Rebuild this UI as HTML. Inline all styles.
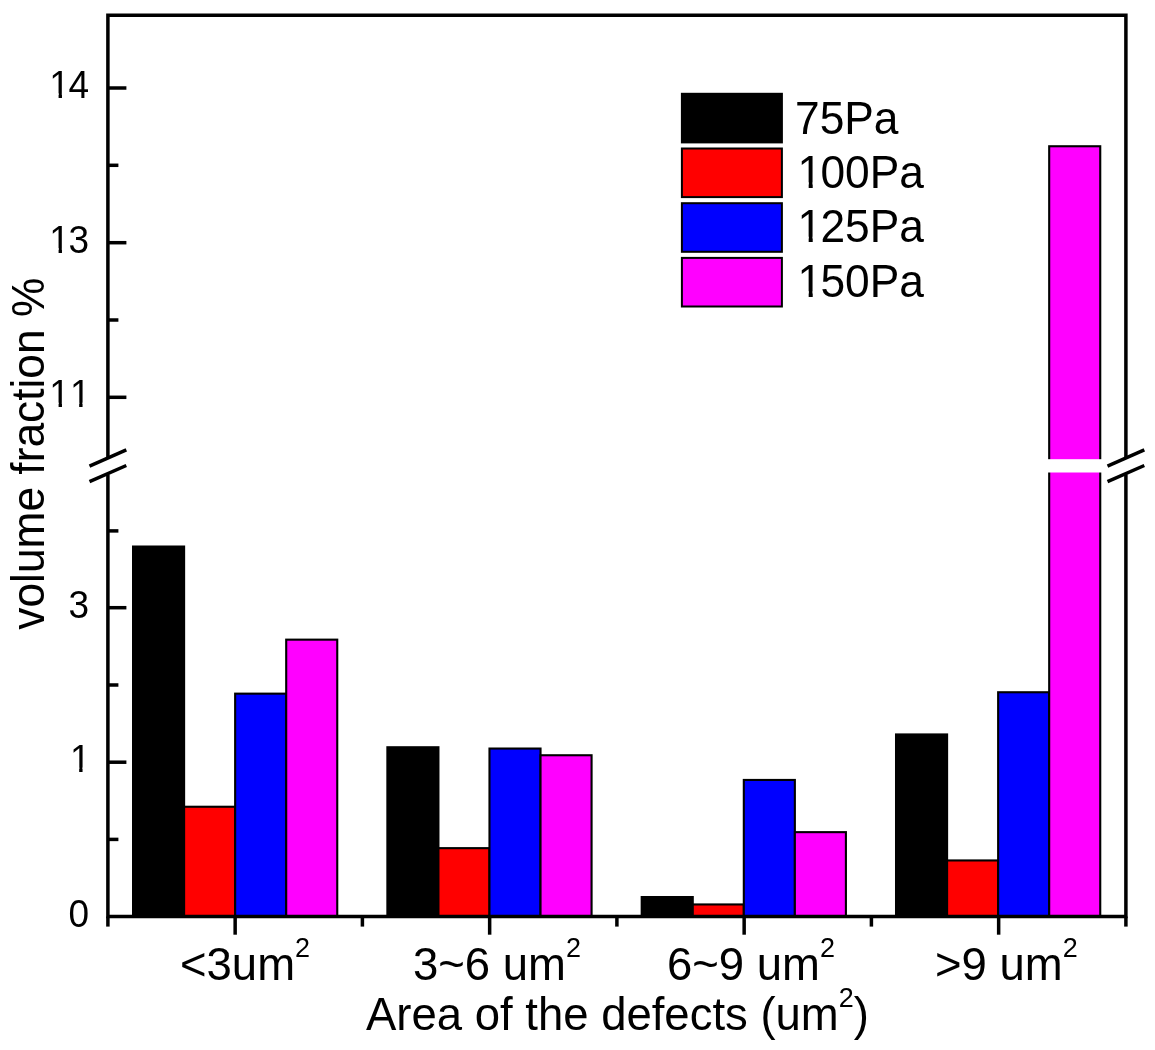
<!DOCTYPE html>
<html><head><meta charset="utf-8"><style>
html,body{margin:0;padding:0;background:#fff;}
body{width:1155px;height:1050px;overflow:hidden;}
svg{display:block;}
text{font-kerning:none;}
</style></head><body>
<svg width="1155" height="1050" viewBox="0 0 1155 1050">
<rect width="1155" height="1050" fill="#fff"/>
<rect x="133.05" y="546.55" width="51.05" height="369.95" fill="#000000" stroke="#000" stroke-width="2.1"/>
<rect x="184.10" y="806.75" width="51.05" height="109.75" fill="#ff0000" stroke="#000" stroke-width="2.1"/>
<rect x="235.15" y="693.65" width="51.05" height="222.85" fill="#0000ff" stroke="#000" stroke-width="2.1"/>
<rect x="286.20" y="639.65" width="51.05" height="276.85" fill="#ff00ff" stroke="#000" stroke-width="2.1"/>
<rect x="387.38" y="747.25" width="51.05" height="169.25" fill="#000000" stroke="#000" stroke-width="2.1"/>
<rect x="438.43" y="848.15" width="51.05" height="68.35" fill="#ff0000" stroke="#000" stroke-width="2.1"/>
<rect x="489.48" y="748.55" width="51.05" height="167.95" fill="#0000ff" stroke="#000" stroke-width="2.1"/>
<rect x="540.53" y="755.25" width="51.05" height="161.25" fill="#ff00ff" stroke="#000" stroke-width="2.1"/>
<rect x="641.71" y="897.05" width="51.05" height="19.45" fill="#000000" stroke="#000" stroke-width="2.1"/>
<rect x="692.76" y="904.45" width="51.05" height="12.05" fill="#ff0000" stroke="#000" stroke-width="2.1"/>
<rect x="743.81" y="779.95" width="51.05" height="136.55" fill="#0000ff" stroke="#000" stroke-width="2.1"/>
<rect x="794.86" y="832.15" width="51.05" height="84.35" fill="#ff00ff" stroke="#000" stroke-width="2.1"/>
<rect x="896.04" y="734.45" width="51.05" height="182.05" fill="#000000" stroke="#000" stroke-width="2.1"/>
<rect x="947.09" y="860.45" width="51.05" height="56.05" fill="#ff0000" stroke="#000" stroke-width="2.1"/>
<rect x="998.14" y="692.25" width="51.05" height="224.25" fill="#0000ff" stroke="#000" stroke-width="2.1"/>
<rect x="1049.19" y="146.25" width="51.05" height="770.25" fill="#ff00ff" stroke="#000" stroke-width="2.1"/>
<rect x="1046.19" y="459.2" width="57.05" height="13.3" fill="#fff"/>
<g stroke="#000" stroke-width="3.5" fill="none" stroke-linecap="butt" stroke-linejoin="miter">
<path d="M107.9,457.5 V15.2 H1125.9 V457.5"/>
<path d="M107.9,474.5 V916.5 H1125.9 V474.5"/>
<line x1="89.5" y1="466.1" x2="126.3" y2="449.9"/>
<line x1="89.5" y1="481.7" x2="126.3" y2="465.5"/>
<line x1="1107.5" y1="466.1" x2="1144.3" y2="449.9"/>
<line x1="1107.5" y1="481.7" x2="1144.3" y2="465.5"/>
<line x1="107.9" y1="88.0" x2="126.4" y2="88.0"/>
<line x1="107.9" y1="242.7" x2="126.4" y2="242.7"/>
<line x1="107.9" y1="397.3" x2="126.4" y2="397.3"/>
<line x1="107.9" y1="607.7" x2="126.4" y2="607.7"/>
<line x1="107.9" y1="762.2" x2="126.4" y2="762.2"/>
<line x1="107.9" y1="165.3" x2="118.4" y2="165.3"/>
<line x1="107.9" y1="320.0" x2="118.4" y2="320.0"/>
<line x1="107.9" y1="530.9" x2="118.4" y2="530.9"/>
<line x1="107.9" y1="685.0" x2="118.4" y2="685.0"/>
<line x1="107.9" y1="839.4" x2="118.4" y2="839.4"/>
<line x1="235.15" y1="916.5" x2="235.15" y2="934.7"/>
<line x1="489.65" y1="916.5" x2="489.65" y2="934.7"/>
<line x1="744.15" y1="916.5" x2="744.15" y2="934.7"/>
<line x1="998.65" y1="916.5" x2="998.65" y2="934.7"/>
<line x1="107.90" y1="916.5" x2="107.90" y2="926.6"/>
<line x1="362.40" y1="916.5" x2="362.40" y2="926.6"/>
<line x1="616.90" y1="916.5" x2="616.90" y2="926.6"/>
<line x1="871.40" y1="916.5" x2="871.40" y2="926.6"/>
<line x1="1125.90" y1="916.5" x2="1125.90" y2="926.6"/>
</g>
<g transform="translate(47.84,98.00) scale(1,1.04)">
<text x="0" y="0" dx="1.50 -1.50" font-family='"Liberation Sans", Arial, sans-serif' font-size="37" fill="#000">14</text>
<rect x="3.31" y="-4.52" width="7.44" height="5.24" fill="#fff"/>
<rect x="14.13" y="-4.52" width="7.06" height="5.24" fill="#fff"/>
</g>
<g transform="translate(47.84,252.70) scale(1,1.04)">
<text x="0" y="0" dx="1.50 -1.50" font-family='"Liberation Sans", Arial, sans-serif' font-size="37" fill="#000">13</text>
<rect x="3.31" y="-4.52" width="7.44" height="5.24" fill="#fff"/>
<rect x="14.13" y="-4.52" width="7.06" height="5.24" fill="#fff"/>
</g>
<g transform="translate(47.84,407.30) scale(1,1.04)">
<text x="0" y="0" dx="1.50 0.00" font-family='"Liberation Sans", Arial, sans-serif' font-size="37" fill="#000">11</text>
<rect x="3.31" y="-4.52" width="7.44" height="5.24" fill="#fff"/>
<rect x="14.13" y="-4.52" width="7.06" height="5.24" fill="#fff"/>
<rect x="23.88" y="-4.52" width="7.44" height="5.24" fill="#fff"/>
<rect x="34.71" y="-4.52" width="7.06" height="5.24" fill="#fff"/>
</g>
<g transform="translate(68.42,617.70) scale(1,1.04)">
<text x="0" y="0" dx="0.00" font-family='"Liberation Sans", Arial, sans-serif' font-size="37" fill="#000">3</text>
</g>
<g transform="translate(68.42,772.20) scale(1,1.04)">
<text x="0" y="0" dx="1.50" font-family='"Liberation Sans", Arial, sans-serif' font-size="37" fill="#000">1</text>
<rect x="3.31" y="-4.52" width="7.44" height="5.24" fill="#fff"/>
<rect x="14.13" y="-4.52" width="7.06" height="5.24" fill="#fff"/>
</g>
<g transform="translate(68.42,926.50) scale(1,1.04)">
<text x="0" y="0" dx="0.00" font-family='"Liberation Sans", Arial, sans-serif' font-size="37" fill="#000">0</text>
</g>
<text transform="translate(43.8,453.7) rotate(-90) scale(1,1.035)" text-anchor="middle" font-family='"Liberation Sans", Arial, sans-serif' font-size="44.3" fill="#000">volume fraction %</text>
<text transform="translate(180,979.7) scale(1,1.02)" font-family='"Liberation Sans", Arial, sans-serif' font-size="45.5" fill="#000">&lt;3um<tspan font-size="27" dy="-22">2</tspan></text>
<text transform="translate(413,979.7) scale(1,1.02)" font-family='"Liberation Sans", Arial, sans-serif' font-size="45.5" fill="#000">3~6 um<tspan font-size="27" dy="-22">2</tspan></text>
<text transform="translate(667,979.7) scale(1,1.02)" font-family='"Liberation Sans", Arial, sans-serif' font-size="45.5" fill="#000">6~9 um<tspan font-size="27" dy="-22">2</tspan></text>
<text transform="translate(935,979.7) scale(1,1.02)" font-family='"Liberation Sans", Arial, sans-serif' font-size="45.5" fill="#000">&gt;9 um<tspan font-size="27" dy="-22">2</tspan></text>
<text transform="translate(366,1029.8) scale(1,1.02)" font-family='"Liberation Sans", Arial, sans-serif' font-size="45.5" fill="#000">Area of the defects (um<tspan font-size="27" dy="-22">2</tspan><tspan dy="22">)</tspan></text>
<rect x="681.9" y="93.8" width="100" height="48.6" fill="#000000" stroke="#000" stroke-width="2"/>
<g transform="translate(795.00,133.50) scale(1,1.04)">
<text x="0" y="0" dx="0.00 0.00 0.00 0.00" font-family='"Liberation Sans", Arial, sans-serif' font-size="44.3" fill="#000">75Pa</text>
</g>
<rect x="681.9" y="148.5" width="100" height="48.6" fill="#ff0000" stroke="#000" stroke-width="2"/>
<g transform="translate(795.80,187.90) scale(1,1.04)">
<text x="0" y="0" dx="1.80 -1.80 0.00 0.00 0.00" font-family='"Liberation Sans", Arial, sans-serif' font-size="44.3" fill="#000">100Pa</text>
<rect x="3.96" y="-5.41" width="8.91" height="6.27" fill="#fff"/>
<rect x="16.92" y="-5.41" width="8.46" height="6.27" fill="#fff"/>
</g>
<rect x="681.9" y="203.2" width="100" height="48.6" fill="#0000ff" stroke="#000" stroke-width="2"/>
<g transform="translate(795.80,242.30) scale(1,1.04)">
<text x="0" y="0" dx="1.80 -1.80 0.00 0.00 0.00" font-family='"Liberation Sans", Arial, sans-serif' font-size="44.3" fill="#000">125Pa</text>
<rect x="3.96" y="-5.41" width="8.91" height="6.27" fill="#fff"/>
<rect x="16.92" y="-5.41" width="8.46" height="6.27" fill="#fff"/>
</g>
<rect x="681.9" y="257.9" width="100" height="48.6" fill="#ff00ff" stroke="#000" stroke-width="2"/>
<g transform="translate(795.80,296.70) scale(1,1.04)">
<text x="0" y="0" dx="1.80 -1.80 0.00 0.00 0.00" font-family='"Liberation Sans", Arial, sans-serif' font-size="44.3" fill="#000">150Pa</text>
<rect x="3.96" y="-5.41" width="8.91" height="6.27" fill="#fff"/>
<rect x="16.92" y="-5.41" width="8.46" height="6.27" fill="#fff"/>
</g>
</svg>
</body></html>
